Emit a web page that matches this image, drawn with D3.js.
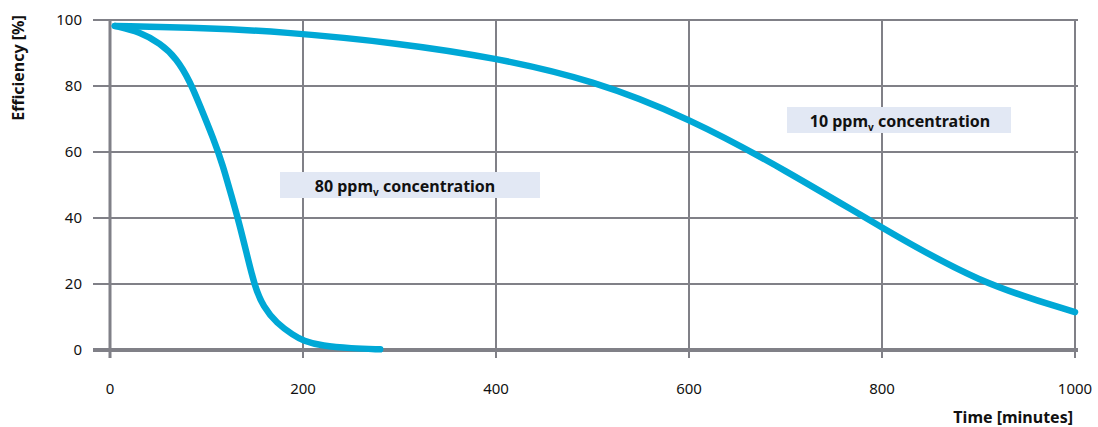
<!DOCTYPE html>
<html><head><meta charset="utf-8">
<script src="https://cdn.jsdelivr.net/npm/d3@7"></script>
<style>body{margin:0;background:#fff}svg{display:block}text{font-family:"Noto Sans",sans-serif}</style>
</head><body><svg id="c" width="1098" height="427"></svg>
<script>
const xTicks = [0, 200, 400, 600, 800, 1000];
const yTicks = [0, 20, 40, 60, 80, 100];
const series10Time = [5, 100, 176, 300, 400, 500, 600, 700, 800, 900, 1000];
const series10Eff  = [98.2, 97.6, 96.5, 93, 88.5, 81.8, 70.3, 54.5, 37, 20.3, 11.5];
const series80Time = [5, 31, 52, 69, 83, 93, 107, 117, 126, 133, 141.6, 150, 158.8, 172.7, 190, 200, 220, 250, 280];
const series80Eff  = [98.2, 96.4, 92.9, 88.4, 81.3, 74.2, 64.2, 56, 46.5, 39.4, 29.3, 19.2, 13.1, 8.1, 4.5, 2.8, 1.2, 0.5, 0.2];
const labels = [
  {main: "80 ppm", sub: "v", rest: " concentration"},
  {main: "10 ppm", sub: "v", rest: " concentration"}
];
const svg = d3.select("#c");
const x = d3.scaleLinear().domain([0, 1000]).range([110, 1075]);
const y = d3.scaleLinear().domain([0, 100]).range([350, 20]);
const grid = "#808087";
const g = svg.append("g");
g.selectAll("line.h").data(yTicks.filter(d=>d>0)).join("line")
  .attr("x1", 93).attr("x2", 1078).attr("y1", d=>y(d)).attr("y2", d=>y(d))
  .attr("stroke", grid).attr("stroke-width", 2);
g.selectAll("line.v").data(xTicks).join("line")
  .attr("x1", d=>x(d)).attr("x2", d=>x(d)).attr("y1", y(100)-1).attr("y2", 358)
  .attr("stroke", grid).attr("stroke-width", d=>d===0?3:2);
g.append("line").attr("x1", 93).attr("x2", 1078).attr("y1", y(0)).attr("y2", y(0))
  .attr("stroke", grid).attr("stroke-width", 4);
svg.selectAll("text.yl").data(yTicks).join("text")
  .attr("x", 82).attr("y", d=>y(d)+5).attr("text-anchor","end")
  .attr("font-size", 15).attr("fill","#111").text(d=>d);
svg.selectAll("text.xl").data(xTicks).join("text")
  .attr("x", d=>x(d)).attr("y", 394).attr("text-anchor","middle")
  .attr("font-size", 15).attr("fill","#111").text(d=>d);
svg.append("text").attr("x", 1073).attr("y", 423).attr("text-anchor","end")
  .attr("font-size", 16).attr("font-weight","bold").attr("fill","#111").text("Time [minutes]");
svg.append("text").attr("transform","translate(24,68) rotate(-90)").attr("text-anchor","middle")
  .attr("font-size", 16).attr("font-weight","bold").attr("fill","#111").text("Efficiency [%]");
const boxes = [{x0:280,x1:540,yc:185,tc:405},{x0:787,x1:1011,yc:120,tc:900}];
labels.forEach((l,i)=>{
  const b = boxes[i];
  svg.append("rect").attr("x", b.x0).attr("y", b.yc-13).attr("width", b.x1-b.x0).attr("height", 26)
    .attr("fill","#e2e8f4");
  const t = svg.append("text").attr("x", b.tc).attr("y", b.yc+6.5).attr("text-anchor","middle")
    .attr("font-size", 16).attr("font-weight","bold").attr("fill","#111");
  t.append("tspan").text(l.main);
  t.append("tspan").attr("font-size", 10).attr("dy", 4).text(l.sub);
  t.append("tspan").attr("dy", -4).text(l.rest);
});
const line = d3.line().x(d=>x(d[0])).y(d=>y(d[1])).curve(d3.curveBasis);
[[series10Time, series10Eff],[series80Time, series80Eff]].forEach(([t,e])=>{
  svg.append("path").attr("d", line(t.map((v,i)=>[v,e[i]])))
    .attr("fill","none").attr("stroke","#00a8d6").attr("stroke-width",6.5).attr("stroke-linecap","round");
});
</script></body></html>
